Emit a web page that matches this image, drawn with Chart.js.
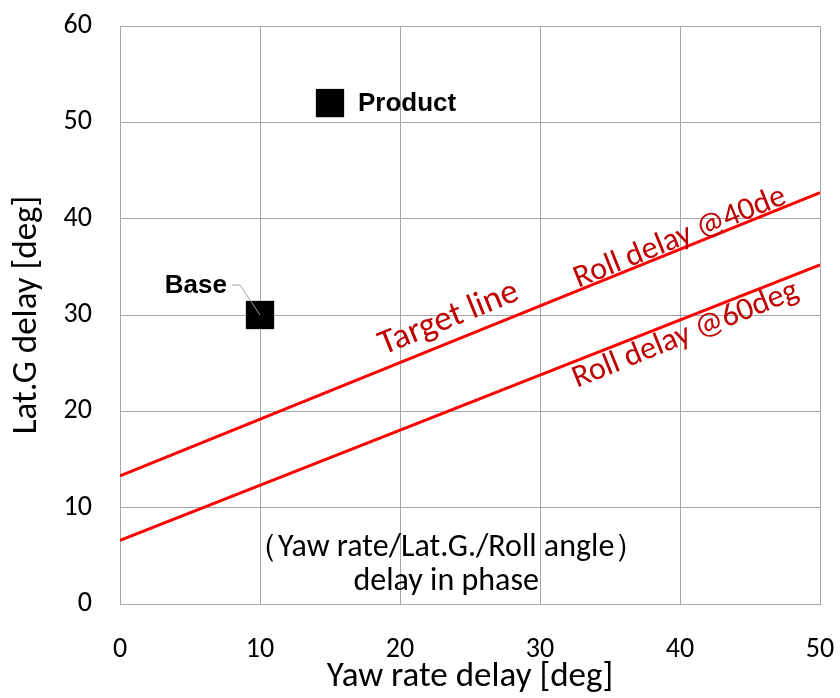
<!DOCTYPE html>
<html>
<head>
<meta charset="utf-8">
<script src="https://cdn.jsdelivr.net/npm/chart.js@4/dist/chart.umd.min.js"></script>
<style>
    html, body { margin: 0; padding: 0; background: #fff; }
    #wrap { width: 840px; height: 698px; }
</style>
</head>
<body>
<div id="wrap"><canvas id="delayChart" width="840" height="698"></canvas></div>
<script>
const xTicks = [0, 10, 20, 30, 40, 50];
const yTicks = [0, 10, 20, 30, 40, 50, 60];

// measured points
const pointNames = ['Base', 'Product'];
const pointX = [10, 15];
const pointY = [30, 52];

// straight lines, value at x=0 and x=50
const lineX = [0, 50];
const targetY = [13.3, 42.7];
const roll60Y = [6.6, 35.2];

// text on the lines: [label, x, y, size]
const lineLabels = [
    ['Target line', 23.5, 29.6, 35],
    ['Roll delay @40de', 40.0, 38.0, 32],
    ['Roll delay @60deg', 40.4, 27.9, 32]
];
const noteLines = ['（Yaw rate/Lat.G./Roll angle）', 'delay in phase'];
const noteX = 23.3;
const noteY = [5.8, 2.3];

const FONT = 'Carlito, Lato, sans-serif';

const textPlugin = {
    id: 'chartTexts',
    afterDatasetsDraw(chart) {
        const ctx = chart.ctx;
        const xs = chart.scales.x;
        const ys = chart.scales.y;
        ctx.save();

        // angle of the target line on screen
        const dx = xs.getPixelForValue(lineX[1]) - xs.getPixelForValue(lineX[0]);
        const dy = ys.getPixelForValue(targetY[1]) - ys.getPixelForValue(targetY[0]);
        const angle = Math.atan2(dy, dx);

        ctx.fillStyle = '#c00000';
        ctx.textAlign = 'center';
        ctx.textBaseline = 'middle';
        lineLabels.forEach(([t, x, y, size]) => {
            ctx.save();
            ctx.font = size + 'px ' + FONT;
            ctx.translate(xs.getPixelForValue(x), ys.getPixelForValue(y));
            ctx.rotate(angle);
            ctx.fillText(t, 0, 0);
            ctx.restore();
        });

        ctx.fillStyle = '#000';
        ctx.font = '32px ' + FONT;
        noteLines.forEach((t, i) => {
            ctx.fillText(t, xs.getPixelForValue(noteX), ys.getPixelForValue(noteY[i]));
        });

        // point labels
        ctx.font = 'bold 26px "Liberation Sans", Arial, sans-serif';
        const bx = xs.getPixelForValue(pointX[0]);
        const by = ys.getPixelForValue(pointY[0]);
        ctx.textAlign = 'right';
        ctx.fillText(pointNames[0], bx - 33, by - 29);
        ctx.strokeStyle = '#a0a0a0';
        ctx.lineWidth = 1;
        ctx.beginPath();
        ctx.moveTo(bx - 28, by - 30);
        ctx.lineTo(bx - 20, by - 30);
        ctx.lineTo(bx, by);
        ctx.stroke();

        const px = xs.getPixelForValue(pointX[1]);
        const py = ys.getPixelForValue(pointY[1]);
        ctx.textAlign = 'left';
        ctx.fillText(pointNames[1], px + 28, py + 1);
        ctx.restore();
    }
};

new Chart(document.getElementById('delayChart'), {
    type: 'scatter',
    data: {
        datasets: [
            {
                label: 'Target line',
                type: 'line',
                data: lineX.map((x, i) => ({ x: x, y: targetY[i] })),
                borderColor: '#ff0000',
                borderWidth: 3,
                pointRadius: 0,
                fill: false
            },
            {
                label: 'Roll delay @60deg',
                type: 'line',
                data: lineX.map((x, i) => ({ x: x, y: roll60Y[i] })),
                borderColor: '#ff0000',
                borderWidth: 3,
                pointRadius: 0,
                fill: false
            },
            {
                label: 'Points',
                data: pointX.map((x, i) => ({ x: x, y: pointY[i] })),
                pointStyle: 'rect',
                pointRadius: 20,
                backgroundColor: '#000',
                borderColor: '#000',
                borderWidth: 0
            }
        ]
    },
    options: {
        responsive: false,
        animation: false,
        layout: { padding: { left: 0, right: 18, top: 26, bottom: 0 } },
        plugins: {
            legend: { display: false },
            tooltip: { enabled: false }
        },
        scales: {
            x: {
                type: 'linear',
                min: 0,
                max: 50,
                afterBuildTicks: s => { s.ticks = xTicks.map(v => ({ value: v })); },
                afterFit: s => { s.height = 94; s.paddingLeft = 0; s.paddingRight = 0; },
                grid: { color: '#a6a6a6', drawTicks: false },
                border: { color: '#a6a6a6' },
                ticks: { color: '#000', font: { family: FONT, size: 28 }, padding: 29 },
                title: {
                    display: true,
                    text: 'Yaw rate delay [deg]',
                    color: '#000',
                    font: { family: FONT, size: 35 },
                    padding: { top: 0, bottom: 0 }
                }
            },
            y: {
                type: 'linear',
                min: 0,
                max: 60,
                afterBuildTicks: s => { s.ticks = yTicks.map(v => ({ value: v })); },
                afterFit: s => { s.width = 120; s.paddingTop = 0; s.paddingBottom = 0; },
                grid: { color: '#a6a6a6', drawTicks: false },
                border: { color: '#a6a6a6' },
                ticks: { color: '#000', font: { family: FONT, size: 28 }, padding: 28 },
                title: {
                    display: true,
                    text: 'Lat.G delay [deg]',
                    color: '#000',
                    font: { family: FONT, size: 35 },
                    padding: { top: 6, bottom: 0 }
                }
            }
        }
    },
    plugins: [textPlugin]
});
</script>
</body>
</html>
